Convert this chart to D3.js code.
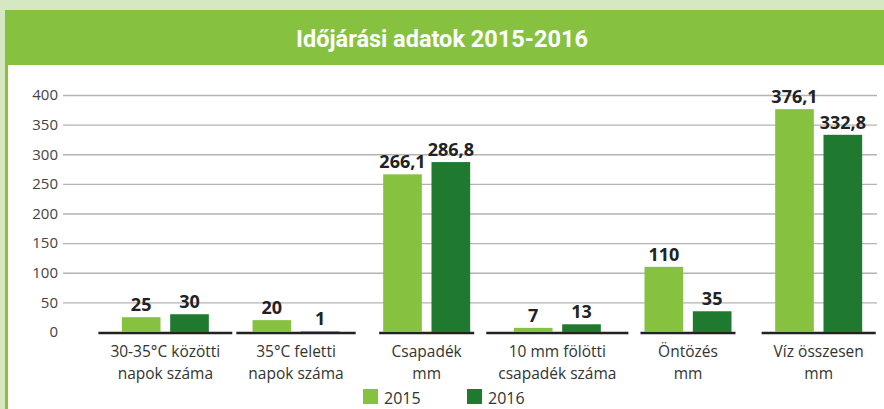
<!DOCTYPE html>
<html>
<head>
<meta charset="utf-8">
<script src="https://cdn.jsdelivr.net/npm/d3@7"></script>
<style>
  body { margin: 0; background: #d5e8c1; overflow: hidden; }
  svg { display: block; }
</style>
</head>
<body>
<div id="chart"></div>
<script>
// data
var categories = ["30-35°C közötti|napok száma", "35°C feletti|napok száma", "Csapadék|mm",
                  "10 mm fölötti|csapadék száma", "Öntözés|mm", "Víz összesen|mm"]
var series = ["2015", "2016"]
var values2015 = [25, 20, 266.1, 7, 110, 376.1]
var values2016 = [30, 1, 286.8, 13, 35, 332.8]
var yTicks = [0, 50, 100, 150, 200, 250, 300, 350, 400]
var title = "Időjárási adatok 2015-2016"

var colors = {"2015": "#86c23f", "2016": "#1f7a30"}
var W = 884, H = 409

var svg = d3.select("#chart")
  .append("svg")
    .attr("width", W)
    .attr("height", H)

// frame: light background, green title band, white panel
svg.append("rect")
  .attr("x", 0).attr("y", 0).attr("width", W).attr("height", H)
  .attr("fill", "#d5e8c1")
svg.append("rect")
  .attr("x", 5).attr("y", 10).attr("width", W - 5).attr("height", H - 10)
  .attr("fill", "#86c240")
svg.append("rect")
  .attr("x", 8).attr("y", 65).attr("width", W - 8).attr("height", H - 65)
  .attr("fill", "#ffffff")

svg.append("text")
  .attr("x", W / 2)
  .attr("y", 47)
  .attr("text-anchor", "middle")
  .style("font-family", "Roboto, 'Open Sans', sans-serif")
  .style("font-weight", "bold")
  .style("font-size", "23.5px")
  .style("fill", "#ffffff")
  .text(title)

// scales
var y = d3.scaleLinear()
  .domain([0, 400])
  .range([332, 95])

var x0 = d3.scaleBand()
  .domain(categories)
  .range([100, 884])
  .paddingInner(0.08)
  .paddingOuter(0.04)

var x1 = d3.scaleBand()
  .domain(series)
  .range([0, 87])
  .paddingInner(0.2)

// gridlines + y tick labels
var yAxis = svg.append("g")
  .attr("transform", "translate(63,0)")
  .call(d3.axisLeft(y).tickValues(yTicks).tickSize(-814).tickPadding(5))
yAxis.select(".domain").remove()
yAxis.selectAll(".tick line")
  .attr("stroke", "#b3b3b3")
  .attr("stroke-width", 1.4)
  .filter(function(d) { return d === 0 }).remove()
yAxis.selectAll(".tick text")
  .style("font-family", "'Open Sans', sans-serif")
  .style("font-size", "15px")
  .style("fill", "#444")

var rows = categories.map(function(c, i) {
  return {cat: c, vals: [{s: "2015", v: values2015[i]}, {s: "2016", v: values2016[i]}]}
})

var groups = svg.selectAll("g.grp")
  .data(rows)
  .enter()
  .append("g")
    .attr("class", "grp")
    .attr("transform", function(d) {
      return "translate(" + (x0(d.cat) + x0.bandwidth() / 2 - 43.5) + ",0)"
    })

// category labels (two lines)
var labels = groups.append("text")
  .attr("text-anchor", "middle")
  .style("font-family", "'Open Sans', sans-serif")
  .style("font-size", "15.5px")
  .style("fill", "#333")
labels.selectAll("tspan")
  .data(function(d) { return d.cat.split("|") })
  .enter()
  .append("tspan")
    .attr("x", 43.5)
    .attr("y", function(d, i) { return 357 + i * 21.5 })
    .text(function(d) { return d })

// baseline under each group, sized to its label
groups.each(function() {
  var g = d3.select(this)
  var lw = g.select("text").node().getBBox().width
  var w = Math.max(lw + 24, 95)
  g.insert("line", "text")
    .attr("x1", 43.5 - w / 2)
    .attr("x2", 43.5 + w / 2)
    .attr("y1", y(0) + 1)
    .attr("y2", y(0) + 1)
    .attr("stroke", "#222")
    .attr("stroke-width", 2.6)
})

// bars
groups.selectAll("rect")
  .data(function(d) { return d.vals })
  .enter()
  .append("rect")
    .attr("x", function(d) { return x1(d.s) })
    .attr("y", function(d) { return y(d.v) })
    .attr("width", x1.bandwidth())
    .attr("height", function(d) { return y(0) - y(d.v) })
    .attr("fill", function(d) { return colors[d.s] })

// value labels
groups.selectAll("text.val")
  .data(function(d) { return d.vals })
  .enter()
  .append("text")
    .attr("class", "val")
    .attr("x", function(d) { return x1(d.s) + x1.bandwidth() / 2 })
    .attr("y", function(d) { return y(d.v) - 6 })
    .attr("text-anchor", "middle")
    .style("font-family", "'Open Sans', sans-serif")
    .style("font-weight", "bold")
    .style("font-size", "18px")
    .style("fill", "#222")
    .text(function(d) { return String(d.v).replace(".", ",") })

// push the two value labels of a group apart when they would touch
groups.each(function() {
  var t = d3.select(this).selectAll("text.val").nodes()
  var a = t[0].getBBox(), b = t[1].getBBox()
  var overlapX = (a.x + a.width + 2) - b.x
  var overlapY = Math.min(a.y + a.height, b.y + b.height) - Math.max(a.y, b.y)
  if (overlapX > 0 && overlapY > 0) {
    d3.select(t[0]).attr("x", +d3.select(t[0]).attr("x") - overlapX / 2)
    d3.select(t[1]).attr("x", +d3.select(t[1]).attr("x") + overlapX / 2)
  }
})

// legend
var legend = svg.selectAll("g.leg")
  .data(series)
  .enter()
  .append("g")
    .attr("class", "leg")
    .attr("transform", function(d, i) { return "translate(" + (363 + i * 104) + ",389)" })
legend.append("rect")
  .attr("width", 15)
  .attr("height", 15)
  .attr("fill", function(d) { return colors[d] })
legend.append("text")
  .attr("x", 21)
  .attr("y", 15)
  .style("font-family", "'Open Sans', sans-serif")
  .style("font-size", "16px")
  .style("fill", "#333")
  .text(function(d) { return d })
</script>
</body>
</html>
